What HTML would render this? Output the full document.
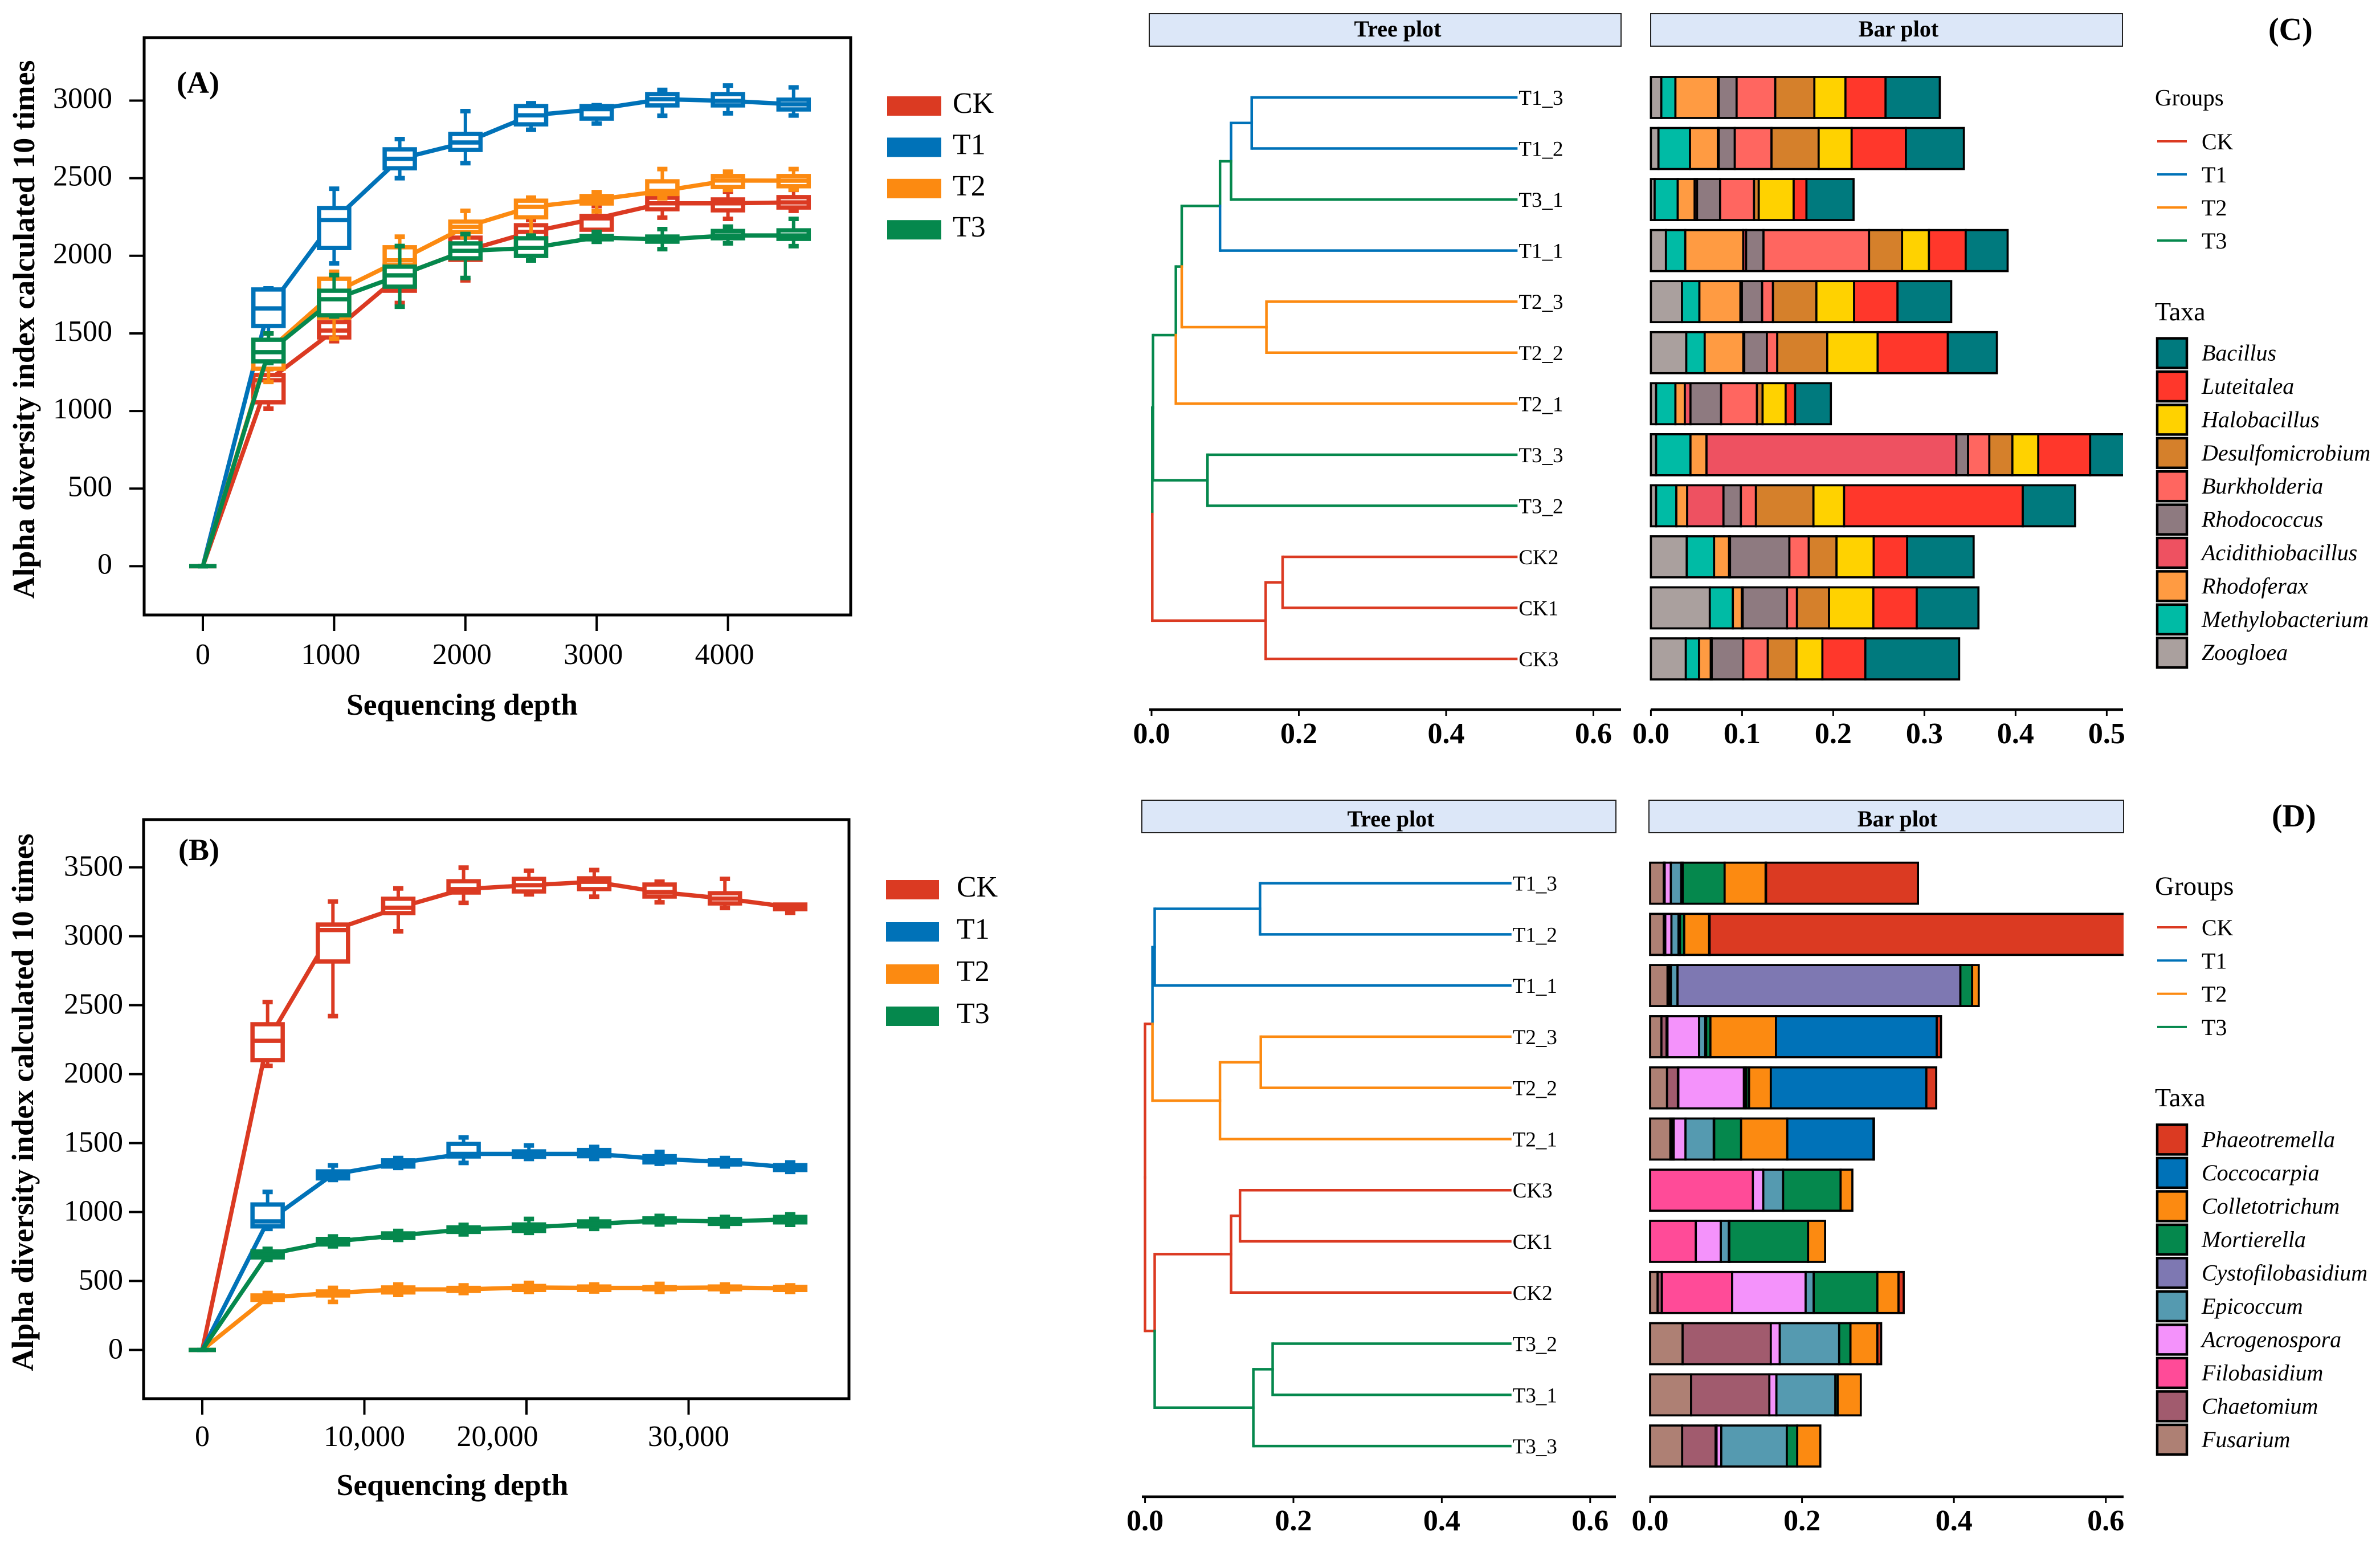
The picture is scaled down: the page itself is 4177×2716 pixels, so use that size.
<!DOCTYPE html>
<html lang="en">
<head>
<meta charset="utf-8">
<title>Alpha diversity and community composition</title>
<style>
html,body{margin:0;padding:0;background:#fff}
svg{display:block}
text{font-family:"Liberation Serif",serif;fill:#000}
</style>
</head>
<body>
<svg id="fig" xmlns="http://www.w3.org/2000/svg" width="4177" height="2716" viewBox="0 0 4177 2716">
<rect x="0" y="0" width="4177" height="2716" fill="#fff"/>
<defs>
<clipPath id="clipBarC"><rect x="2890" y="100" width="836" height="1130"/></clipPath>
<clipPath id="clipBarD"><rect x="2885" y="1480" width="842" height="1130"/></clipPath>
</defs>

<g id="panelA">
<rect x="253" y="66" width="1240" height="1013" fill="none" stroke="#000" stroke-width="5"/>
<text x="310" y="163" font-size="54" font-weight="bold">(A)</text>
<text x="811" y="1254" font-size="53" font-weight="bold" text-anchor="middle" textLength="406" lengthAdjust="spacingAndGlyphs">Sequencing depth</text>
<text x="60" y="578" font-size="54" font-weight="bold" text-anchor="middle" textLength="945" lengthAdjust="spacingAndGlyphs" transform="rotate(-90 60 578)">Alpha diversity index calculated 10 times</text>
</g>

<g id="panelB">
<rect x="252" y="1438" width="1238" height="1016" fill="none" stroke="#000" stroke-width="5"/>
<text x="313" y="1509" font-size="54" font-weight="bold">(B)</text>
<text x="794" y="2623" font-size="53" font-weight="bold" text-anchor="middle" textLength="407" lengthAdjust="spacingAndGlyphs">Sequencing depth</text>
<text x="58" y="1934" font-size="54" font-weight="bold" text-anchor="middle" textLength="943" lengthAdjust="spacingAndGlyphs" transform="rotate(-90 58 1934)">Alpha diversity index calculated 10 times</text>
</g>

<g id="panelC">
<rect x="2017" y="24" width="828" height="57" fill="#DCE7F8" stroke="#222" stroke-width="2"/>
<rect x="2897" y="24" width="828" height="57" fill="#DCE7F8" stroke="#222" stroke-width="2"/>
<text x="2453" y="64" font-size="40" font-weight="bold" text-anchor="middle">Tree plot</text>
<text x="3332" y="64" font-size="40" font-weight="bold" text-anchor="middle">Bar plot</text>
<text x="3981" y="70" font-size="56" font-weight="bold">(C)</text>
<text x="3782" y="185" font-size="41">Groups</text>
<text x="3782" y="562" font-size="46">Taxa</text>
</g>

<g id="panelD">
<rect x="2004" y="1404" width="832" height="57" fill="#DCE7F8" stroke="#222" stroke-width="2"/>
<rect x="2894" y="1404" width="833" height="57" fill="#DCE7F8" stroke="#222" stroke-width="2"/>
<text x="2441" y="1450" font-size="40" font-weight="bold" text-anchor="middle">Tree plot</text>
<text x="3330" y="1450" font-size="40" font-weight="bold" text-anchor="middle">Bar plot</text>
<text x="3987" y="1450" font-size="56" font-weight="bold">(D)</text>
<text x="3782" y="1570" font-size="47">Groups</text>
<text x="3782" y="1941" font-size="46">Taxa</text>
</g>
</svg>

<script>
/* ---------- shared categories ---------- */
const groupNames = ['CK', 'T1', 'T2', 'T3'];
const groupColors = { CK: '#DB3A22', T1: '#0072B8', T2: '#FC8A11', T3: '#05884D' };

/* ---------- Panel A data: each row = [low, q1, median, q3, high] ---------- */
const depthsA = [0, 500, 1000, 1500, 2000, 2500, 3000, 3500, 4000, 4500];
const xTicksA = [0, 1000, 2000, 3000, 4000];
const yTicksA = [0, 500, 1000, 1500, 2000, 2500, 3000];
const ckA = [[0,0,0,0,0],[1015,1056,1198,1232,1270],[1450,1474,1518,1573,1630],[1696,1775,1874,1940,2000],[1842,1974,2032,2117,2140],[2070,2070,2154,2197,2230],[2120,2168,2241,2257,2320],[2246,2300,2338,2374,2440],[2238,2293,2338,2363,2414],[2290,2311,2344,2378,2425]];
const t1A = [[0,0,0,0,0],[1500,1548,1661,1783,1790],[1951,2050,2230,2308,2432],[2500,2564,2625,2686,2752],[2597,2682,2730,2785,2932],[2812,2847,2905,2965,2983],[2852,2884,2945,2965,2970],[2902,2969,3009,3042,3069],[2918,2969,2998,3042,3097],[2904,2943,2976,3006,3085]];
const t2A = [[0,0,0,0,0],[1187,1272,1390,1455,1500],[1466,1602,1763,1852,1897],[1850,1940,1971,2055,2123],[2120,2153,2186,2220,2290],[2130,2248,2315,2355,2375],[2286,2337,2362,2385,2410],[2370,2398,2418,2480,2559],[2425,2443,2485,2514,2542],[2426,2448,2484,2514,2559]];
const t3A = [[0,0,0,0,0],[1309,1320,1379,1459,1500],[1610,1617,1720,1775,1876],[1672,1801,1874,1930,2063],[1857,1984,2032,2080,2140],[1970,1999,2050,2113,2130],[2090,2106,2118,2128,2154],[2043,2091,2105,2124,2172],[2080,2113,2131,2160,2188],[2062,2109,2131,2164,2238]];

/* ---------- Panel B data ---------- */
const depthsB = [0, 4030, 8060, 12090, 16120, 20150, 24180, 28210, 32240, 36270];
const xTicksB = [0, 10000, 20000, 30000];
const yTicksB = [0, 500, 1000, 1500, 2000, 2500, 3000, 3500];
const ckB = [[0,0,0,0,0],[2060,2102,2242,2362,2523],[2421,2817,3045,3085,3252],[3036,3168,3207,3272,3347],[3242,3317,3342,3399,3498],[3304,3325,3370,3416,3475],[3287,3342,3395,3420,3480],[3246,3288,3320,3375,3396],[3205,3238,3273,3312,3416],[3170,3196,3211,3230,3225]];
const t1B = [[0,0,0,0,0],[878,896,932,1055,1146],[1233,1244,1273,1295,1338],[1320,1330,1356,1375,1392],[1356,1403,1422,1494,1541],[1385,1400,1422,1440,1483],[1385,1405,1422,1450,1472],[1350,1360,1385,1405,1436],[1331,1345,1363,1375,1392],[1291,1305,1324,1340,1360]];
const t2B = [[0,0,0,0,0],[348,363,381,395,413],[348,395,413,424,450],[399,417,439,453,475],[413,428,439,450,468],[421,435,453,464,486],[424,435,450,460,475],[421,440,450,455,479],[424,440,453,460,475],[421,435,446,457,468]];
const t3B = [[0,0,0,0,0],[653,671,693,714,733],[751,765,787,805,823],[798,812,830,845,863],[838,856,874,889,907],[849,863,889,910,950],[878,896,914,932,950],[910,925,939,954,972],[896,914,932,950,965],[907,925,947,965,983]];

/* ---------- Panel C data ---------- */
const taxaC = ['Zoogloea','Methylobacterium','Rhodoferax','Acidithiobacillus','Rhodococcus','Burkholderia','Desulfomicrobium','Halobacillus','Luteitalea','Bacillus'];
const taxaColorsC = ['#AAA09E','#00BBA5','#FF9B42','#EE5161','#8E7A80','#FF6660','#D5802B','#FFD200','#FF372B','#007A7E'];
const treeTicksC = [0, 0.2, 0.4, 0.6];
const barTicksC = [0, 0.1, 0.2, 0.3, 0.4, 0.5];
const tipDepthC = 0.497;
const barRowsC = ['T1_3','T1_2','T3_1','T1_1','T2_3','T2_2','T2_1','T3_3','T3_2','CK2','CK1','CK3'];
const barValuesC = [
 [.0114,.0155,.0465,.001,.0196,.0424,.0429,.0341,.044,.0595],
 [.0083,.0346,.0305,.001,.0176,.0403,.0517,.0362,.0595,.0636],
 [.0041,.0253,.0186,.0026,.0253,.0372,.0052,.0383,.014,.0517],
 [.0165,.0212,.0636,.0031,.0191,.1158,.0362,.0295,.0403,.046],
 [.0341,.0191,.045,.0016,.0222,.0119,.0476,.0414,.0476,.0589],
 [.0388,.0202,.0424,.001,.0248,.0114,.0548,.0553,.077,.0538],
 [.0057,.0212,.0103,.0062,.0336,.0393,.0062,.0253,.0103,.0393],
 [.0057,.0377,.0176,.274,.0129,.0233,.0253,.0284,.0569,.04],
 [.0057,.0222,.0119,.0398,.0191,.0165,.0631,.0336,.196,.0574],
 [.0393,.03,.0165,.001,.0651,.0212,.0305,.0408,.0367,.0729],
 [.0646,.0253,.0098,.001,.0486,.0109,.0352,.0486,.0476,.0677],
 [.0383,.0145,.0129,.001,.0346,.0269,.0315,.0284,.0471,.1029]
];
/* h = branch height, g = group of the edge leading to the node */
const treeC = { h:.001, g:'T3', kids:[
  { h:.002, g:'T3', kids:[
    { h:.033, g:'T3', kids:[
      { h:.041, g:'T3', kids:[
        { h:.093, g:'T3', kids:[
          { h:.108, g:'T3', kids:[
            { h:.136, g:'T1', kids:[ {tip:'T1_3', g:'T1'}, {tip:'T1_2', g:'T1'} ] },
            { tip:'T3_1', g:'T3' } ] },
          { tip:'T1_1', g:'T1' } ] },
        { h:.156, g:'T2', kids:[ {tip:'T2_3', g:'T2'}, {tip:'T2_2', g:'T2'} ] } ] },
      { tip:'T2_1', g:'T2' } ] },
    { h:.076, g:'T3', kids:[ {tip:'T3_3', g:'T3'}, {tip:'T3_2', g:'T3'} ] } ] },
  { h:.155, g:'CK', kids:[
    { h:.178, g:'CK', kids:[ {tip:'CK2', g:'CK'}, {tip:'CK1', g:'CK'} ] },
    { tip:'CK3', g:'CK' } ] }
] };

/* ---------- Panel D data ---------- */
const taxaD = ['Fusarium','Chaetomium','Filobasidium','Acrogenospora','Epicoccum','Cystofilobasidium','Mortierella','Colletotrichum','Coccocarpia','Phaeotremella'];
const taxaColorsD = ['#AE8074','#A15B6E','#FF4B98','#F492FB','#559AB0','#7E78B2','#05884D','#FC8A11','#0072B8','#DB3A22'];
const treeTicksD = [0, 0.2, 0.4, 0.6];
const barTicksD = [0, 0.2, 0.4, 0.6];
const tipDepthD = 0.494;
const barRowsD = ['T1_3','T1_2','T1_1','T2_3','T2_2','T2_1','CK3','CK1','CK2','T3_2','T3_1','T3_3'];
const barValuesD = [
 [.018,.0006,.0006,.0081,.0137,.0019,.0552,.054,.0006,.2],
 [.018,.001,.001,.0081,.0093,.0019,.0056,.0329,.0006,.56],
 [.023,.0019,.0006,.0019,.0087,.3724,.0155,.0087,0,0],
 [.0149,.0068,.0012,.0416,.0081,.0012,.0056,.0863,.2117,.0056],
 [.0223,.0143,.0006,.0863,.0019,.0012,.0037,.0286,.2048,.013],
 [.0267,.0025,.0019,.0155,.0372,.0006,.0354,.0608,.1136,.0006],
 [0,0,.1353,.0137,.0261,0,.0757,.0155,0,0],
 [0,0,.0602,.0329,.0106,.0006,.1037,.0224,0,0],
 [.0099,.0056,.0925,.0968,.0106,0,.0838,.0279,0,.0068],
 [.0428,.1161,0,.0118,.0782,0,.0149,.0354,0,.005],
 [.054,.103,0,.0093,.0776,0,.0031,.0304,0,0],
 [.0422,.0441,.0012,.0062,.0863,0,.0137,.0304,0,0]
];
const treeD = { h:0, g:'CK', kids:[
  { h:.01, g:'CK', kids:[
    { h:.013, g:'T1', kids:[
      { h:.155, g:'T1', kids:[ {tip:'T1_3', g:'T1'}, {tip:'T1_2', g:'T1'} ] },
      { tip:'T1_1', g:'T1' } ] },
    { h:.101, g:'T2', kids:[
      { h:.156, g:'T2', kids:[ {tip:'T2_3', g:'T2'}, {tip:'T2_2', g:'T2'} ] },
      { tip:'T2_1', g:'T2' } ] } ] },
  { h:.013, g:'CK', kids:[
    { h:.116, g:'CK', kids:[
      { h:.128, g:'CK', kids:[ {tip:'CK3', g:'CK'}, {tip:'CK1', g:'CK'} ] },
      { tip:'CK2', g:'CK' } ] },
    { h:.146, g:'T3', kids:[
      { h:.172, g:'T3', kids:[ {tip:'T3_2', g:'T3'}, {tip:'T3_1', g:'T3'} ] },
      { tip:'T3_3', g:'T3' } ] } ] }
] };

/* ---------- helpers ---------- */
const NS = 'http://www.w3.org/2000/svg';
function mk(parent, tag, attrs, txt) {
  const n = document.createElementNS(NS, tag);
  for (const k in attrs) n.setAttribute(k, attrs[k]);
  if (txt !== undefined) n.textContent = txt;
  parent.appendChild(n);
  return n;
}

/* ---------- rarefaction panels ---------- */
function drawBoxPanel(root, tag, xScale, yScale, depths, seriesList, boxW) {
  seriesList.forEach(function (rows, si) {
    const name = groupNames[si];
    const col = groupColors[name];
    const g = mk(root, 'g', {});
    
    
    const pts = rows.map(function (r, i) { return xScale(depths[i]) + ',' + yScale(r[2]); }).join(' ');
    const line = mk(g, 'polyline', { points: pts, fill: 'none', stroke: col, 'stroke-width': 7.5, 'stroke-linejoin': 'round' });
    
    
    rows.forEach(function (r, i) {
      const cx = xScale(depths[i]);
      const w = depths[i] === 0 ? boxW - 12 : boxW;
      const b = mk(g, 'g', {});
      
      
      mk(b, 'line', { x1: cx, x2: cx, y1: yScale(r[0]), y2: yScale(r[4]), stroke: col, 'stroke-width': 6 });
      mk(b, 'line', { x1: cx - 9, x2: cx + 9, y1: yScale(r[0]), y2: yScale(r[0]), stroke: col, 'stroke-width': 8 });
      mk(b, 'line', { x1: cx - 9, x2: cx + 9, y1: yScale(r[4]), y2: yScale(r[4]), stroke: col, 'stroke-width': 8 });
      mk(b, 'rect', { x: cx - w / 2 + 3.5, y: yScale(r[3]), width: w - 7, height: Math.max(0, yScale(r[1]) - yScale(r[3])), fill: '#fff', stroke: col, 'stroke-width': 7.5 });
      mk(b, 'line', { x1: cx - w / 2, x2: cx + w / 2, y1: yScale(r[2]), y2: yScale(r[2]), stroke: col, 'stroke-width': 7.5 });
    });
  });
}
function drawBoxAxes(root, tag, xScale, yScale, xTicks, yTicks, axisY, axisX, xBase, yRight, fmt, nudge, labelDy) {
  xTicks.forEach(function (t) {
    const tick = mk(root, 'line', { x1: xScale(t), x2: xScale(t), y1: axisY, y2: axisY + 28, stroke: '#000', 'stroke-width': 4 });
    
    
    const lab = mk(root, 'text', { x: xScale(t) + nudge(t), y: xBase, 'font-size': 52, 'text-anchor': 'middle' }, fmt(t));
    
    
  });
  yTicks.forEach(function (t) {
    const tick = mk(root, 'line', { x1: axisX - 26, x2: axisX, y1: yScale(t), y2: yScale(t), stroke: '#000', 'stroke-width': 4 });
    
    
    const lab = mk(root, 'text', { x: yRight, y: yScale(t) + labelDy, 'font-size': 52, 'text-anchor': 'end' }, String(t));
    
    
  });
}
function drawSwatchLegend(root, tag, sx, sw, sh, labelX, centers) {
  groupNames.forEach(function (name, i) {
    const g = mk(root, 'g', {});
    
    
    mk(g, 'rect', { x: sx, y: centers(i) - sh / 2, width: sw, height: sh, fill: groupColors[name] });
    mk(g, 'text', { x: labelX, y: centers(i) + 12, 'font-size': 52 }, name);
  });
}

const xA = function (v) { return 356 + 0.2304 * v; };
const yA = function (v) { return 993.4 - 0.2723 * v; };
const panelA = document.getElementById('panelA');
drawBoxAxes(panelA, 'a', xA, yA, xTicksA, yTicksA, 1079, 253, 1165, 197, String, function (t) { return t === 0 ? 0 : -6; }, 13);
drawBoxPanel(panelA, 'a', xA, yA, depthsA, [ckA, t1A, t2A, t3A], 60);
drawSwatchLegend(panelA, 'a', 1557, 95, 34, 1672, function (i) { return 186 + 72.4 * i; });

const xB = function (v) { return 355 + 0.02845 * v; };
const yB = function (v) { return 2368.5 - 0.24194 * v; };
const panelB = document.getElementById('panelB');
drawBoxAxes(panelB, 'b', xB, yB, xTicksB, yTicksB, 2454, 252, 2537, 216,
  function (t) { return t === 0 ? '0' : t.toLocaleString('en-US'); },
  function (t) { return t === 20000 ? -51 : 0; }, 15);
drawBoxPanel(panelB, 'b', xB, yB, depthsB, [ckB, t1B, t2B, t3B], 60);
drawSwatchLegend(panelB, 'b', 1555, 93, 34, 1679, function (i) { return 1561 + 74 * i; });

/* ---------- trees ---------- */
function layoutTree(node, rowY, state) {
  if (node.tip) { node.y = rowY(state.n++); return; }
  node.kids.forEach(function (k) { layoutTree(k, rowY, state); });
  node.y = (node.kids[0].y + node.kids[node.kids.length - 1].y) / 2;
}
function drawTree(root, node, xScale, tipDepth, tag) {
  if (node.tip) {
    const lab = mk(root, 'text', { x: xScale(tipDepth) + 2, y: node.y + 13, 'font-size': 37 }, node.tip);
    
    
    return;
  }
  node.kids.forEach(function (k) {
    const col = groupColors[k.g];
    const kx = k.tip ? xScale(tipDepth) : xScale(k.h);
    const v = mk(root, 'line', { x1: xScale(node.h), x2: xScale(node.h), y1: node.y, y2: k.y, stroke: col, 'stroke-width': 4.5, 'stroke-linecap': 'square' });
    
    
    const h = mk(root, 'line', { x1: xScale(node.h), x2: kx, y1: k.y, y2: k.y, stroke: col, 'stroke-width': 4.5 });
    
    
    drawTree(root, k, xScale, tipDepth, tag);
  });
}
function drawBottomAxis(root, name, xScale, ticks, axisY, x0, x1, labelY) {
  const ax = mk(root, 'line', { x1: x0, x2: x1, y1: axisY, y2: axisY, stroke: '#000', 'stroke-width': 4.5 });
  
  
  ticks.forEach(function (t) {
    const tick = mk(root, 'line', { x1: xScale(t), x2: xScale(t), y1: axisY, y2: axisY + 11, stroke: '#000', 'stroke-width': 3 });
    
    
    const lab = mk(root, 'text', { x: xScale(t), y: labelY, 'font-size': 52, 'font-weight': 'bold', 'text-anchor': 'middle' }, t.toFixed(1));
    
    
  });
}
function drawBars(root, tag, rows, values, colors, taxa, xScale, rowY, clipId) {
  const clip = mk(root, 'g', { 'clip-path': 'url(#' + clipId + ')' });
  
  
  rows.forEach(function (label, r) {
    let cum = 0;
    values[r].forEach(function (w, j) {
      if (w > 0) {
        const seg = mk(clip, 'rect', { x: xScale(cum), y: rowY(r) - 36, width: xScale(cum + w) - xScale(cum), height: 72, fill: colors[j], stroke: '#000', 'stroke-width': 3.7 });
        
        
      }
      cum += w;
    });
  });
}
function drawGroupLegend(root, tag, lineY) {
  groupNames.forEach(function (name, i) {
    const g = mk(root, 'g', {});
    
    
    mk(g, 'line', { x1: 3786, x2: 3838, y1: lineY(i), y2: lineY(i), stroke: groupColors[name], 'stroke-width': 4 });
    mk(g, 'text', { x: 3864, y: lineY(i) + 14, 'font-size': 40 }, name);
  });
}
function drawTaxaLegend(root, tag, taxa, colors, rowY) {
  const n = taxa.length;
  taxa.slice().reverse().forEach(function (name, i) {
    const g = mk(root, 'g', {});
    
    
    mk(g, 'rect', { x: 3786, y: rowY(i) - 26, width: 52, height: 52, fill: colors[n - 1 - i], stroke: '#000', 'stroke-width': 4.5 });
    mk(g, 'text', { x: 3864, y: rowY(i) + 13, 'font-size': 40, 'font-style': 'italic' }, name);
  });
}

/* Panel C */
const panelC = document.getElementById('panelC');
const rowYC = function (i) { return 171 + 89.55 * i; };
const treeXC = function (v) { return 2021 + 1292.5 * v; };
const barXC = function (v) { return 2897.4 + 1600 * v; };
layoutTree(treeC, rowYC, { n: 0 });
drawTree(panelC, treeC, treeXC, tipDepthC, 'c');
drawBars(panelC, 'c', barRowsC, barValuesC, taxaColorsC, taxaC, barXC, rowYC, 'clipBarC');
drawBottomAxis(panelC, 'tree-x-c', treeXC, treeTicksC, 1245, 2017, 2845, 1304);
drawBottomAxis(panelC, 'bar-x-c', barXC, barTicksC, 1245, 2897, 3726, 1304);
drawGroupLegend(panelC, 'c', function (i) { return 248 + 58 * i; });
drawTaxaLegend(panelC, 'c', taxaC, taxaColorsC, function (i) { return 619.6 + 58.4 * i; });

/* Panel D */
const panelD = document.getElementById('panelD');
const rowYD = function (i) { return 1549.6 + 89.77 * i; };
const treeXD = function (v) { return 2009.6 + 1302 * v; };
const barXD = function (v) { return 2896 + 1333 * v; };
layoutTree(treeD, rowYD, { n: 0 });
drawTree(panelD, treeD, treeXD, tipDepthD, 'd');
drawBars(panelD, 'd', barRowsD, barValuesD, taxaColorsD, taxaD, barXD, rowYD, 'clipBarD');
drawBottomAxis(panelD, 'tree-x-d', treeXD, treeTicksD, 2626, 2004, 2836, 2685);
drawBottomAxis(panelD, 'bar-x-d', barXD, barTicksD, 2626, 2895, 3727, 2685);
drawGroupLegend(panelD, 'd', function (i) { return 1627 + 58.3 * i; });
drawTaxaLegend(panelD, 'd', taxaD, taxaColorsD, function (i) { return 1999.4 + 58.5 * i; });
</script>
</body>
</html>
